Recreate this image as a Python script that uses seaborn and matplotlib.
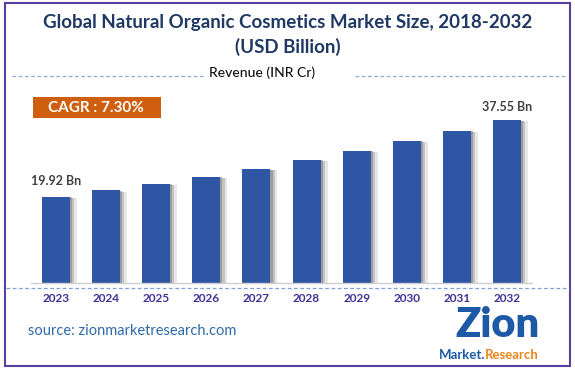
import matplotlib
matplotlib.use("Agg")
import matplotlib.pyplot as plt
import matplotlib.patheffects as pe
from matplotlib.patches import Rectangle
from matplotlib.lines import Line2D
import seaborn as sns
import pandas as pd

years = ["2023", "2024", "2025", "2026", "2027", "2028", "2029", "2030", "2031", "2032"]
values = [19.92, 21.4, 22.9, 24.5, 26.3, 28.4, 30.5, 32.8, 35.1, 37.55]
first_label = "19.92 Bn"
last_label = "37.55 Bn"
title = "Global Natural Organic Cosmetics Market Size, 2018-2032\n(USD Billion)"
subtitle = "Revenue (INR Cr)"
cagr = "CAGR : 7.30%"
source = "source: zionmarketresearch.com"

sns.set_theme(style="white")
plt.rcParams['font.family'] = ['Lato', 'DejaVu Sans']

W, H = 575, 370
fig = plt.figure(figsize=(W / 100, H / 100), dpi=100)

def fx(px):
    return px / W

def fy(py):
    return 1 - py / H

ax = fig.add_axes([fx(31), fy(283), fx(501), 173.6 / H])
df = pd.DataFrame({"year": years, "value": values})
sns.barplot(data=df, x="year", y="value", color="#2f55a5", width=0.56, ax=ax,
            saturation=1, edgecolor="none")
for p in ax.patches:
    p.set_path_effects([
        pe.SimplePatchShadow(offset=(5, -1), shadow_rgbFace="#bbbbbb", alpha=0.35),
        pe.SimplePatchShadow(offset=(3, -1), shadow_rgbFace="#999999", alpha=0.45),
        pe.SimplePatchShadow(offset=(1.5, -0.5), shadow_rgbFace="#777777", alpha=0.5),
        pe.Normal()])
ax.set_xlim(-0.5, 9.5)
ax.set_ylim(0, 40)
ax.set_xlabel("")
ax.set_ylabel("")
ax.set_yticks([])
ax.set_xticks([])
for s in ["top", "left", "right"]:
    ax.spines[s].set_visible(False)
ax.spines["bottom"].set_color("#d0d0d0")
ax.spines["bottom"].set_linewidth(1)

ax.annotate(first_label, (0, values[0]), xytext=(0, 7), textcoords="offset points",
            ha="center", va="bottom", fontsize=9, fontweight="bold", color="#404040")
ax.annotate(last_label, (9, values[-1]), xytext=(0, 5), textcoords="offset points",
            ha="center", va="bottom", fontsize=9, fontweight="bold", color="#404040")

for i, y in enumerate(years):
    ax.text(i, -3.5, y, ha="center", va="center", fontsize=8.5, fontweight="bold",
            color="#3f3195", clip_on=False)

# frame
fig.add_artist(Rectangle((fx(5), fy(366)), fx(565), (366 - 3) / H, transform=fig.transFigure,
                         fill=False, edgecolor="#5a3fa3", linewidth=1.5))

# title
fig.text(0.5, fy(35), title, ha="center", va="center", fontsize=13.5, fontweight="bold",
         color="#1f3864", linespacing=1.45)
fig.text(fx(262), fy(73), subtitle, ha="center", va="center", fontsize=10, fontweight="medium",
         color="#111111")
fig.add_artist(Line2D([fx(12), fx(203)], [fy(76), fy(76)], transform=fig.transFigure,
                      color="#8faadc", linestyle=(0, (3, 2)), linewidth=0.9))
fig.add_artist(Line2D([fx(355), fx(565)], [fy(76), fy(76)], transform=fig.transFigure,
                      color="#8faadc", linestyle=(0, (3, 2)), linewidth=0.9))

# dashed line below axis
fig.add_artist(Line2D([fx(6), fx(569)], [fy(288), fy(288)], transform=fig.transFigure,
                      color="#7f9fd8", linestyle=(0, (3, 2)), linewidth=0.9))

# CAGR box
fig.add_artist(Rectangle((fx(33), fy(118)), fx(128), 21 / H, transform=fig.transFigure,
                         facecolor="#cf5f0e", edgecolor="none"))
fig.text(fx(96), fy(107.5), cagr, ha="center", va="center", fontsize=11, fontweight="bold",
         color="white")

# source
fig.text(fx(28), fy(331), source, ha="left", va="center", fontsize=10.5, color="#2e6aa8")

# logo
fig.text(fx(497), fy(325), "Zion", ha="center", va="center", fontsize=30, fontweight="heavy",
         color="#1c5aa6")
fig.text(fx(485), fy(355), "Market.", ha="right", va="center", fontsize=9.5, fontweight="bold",
         color="#1c5aa6")
fig.text(fx(485), fy(355), "Research", ha="left", va="center", fontsize=9.5, fontweight="bold",
         color="#e8861a")

fig.savefig("out.png", dpi=100)
